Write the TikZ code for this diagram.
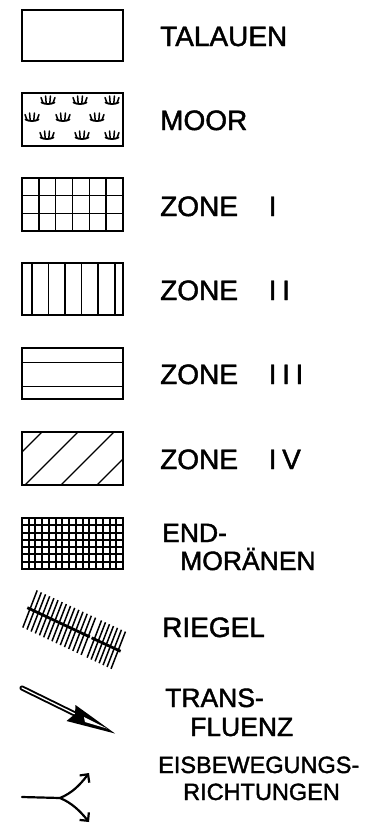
\documentclass[tikz,border=0pt]{standalone}
\usepackage{fontspec}
\setmainfont{Liberation Sans}
\newfontfamily\legendfont[FakeBold=1.6]{Liberation Sans}
\usetikzlibrary{arrows.meta}

\begin{document}
\begin{tikzpicture}[x=1pt, y=-1pt,
    box/.style={draw=black, line width=1.8pt},
    hatch/.style={draw=black, line width=1.4pt},
    dense/.style={draw=black, line width=2pt},
    flow/.style={draw=black, line width=2.2pt, line cap=round},
    legend/.style={anchor=base west, inner sep=0pt, font=\legendfont\fontsize{28}{30}\selectfont},
    legendsm/.style={anchor=base west, inner sep=0pt, font=\legendfont\fontsize{26.5}{28}\selectfont},
    legendxs/.style={anchor=base west, inner sep=0pt, font=\legendfont\fontsize{23.5}{25}\selectfont},
    tuft/.pic={
        \draw[line width=1.8pt, line cap=round] (-6.5,-0.5) .. controls (-3,1.5) and (3,1.5) .. (6.5,-0.5);
        \draw[line width=1.5pt, line cap=round] (-7,-5.5) -- (-5,0) (-2.4,-7) -- (-1.8,0.8)
            (2.4,-7) -- (1.8,0.8) (7,-5.5) -- (5,0);
    }
]
\useasboundingbox (0,0) rectangle (372,825);

\draw[box] (22,10) rectangle (123,61);

\foreach \tx/\ty in {48/103,80/103,112/103,32/120,63/120,97/120,47/138,82/138,112/138}
    \pic at (\tx,\ty) {tuft};
\draw[box] (22,93) rectangle (123,146);

\foreach \gx in {1,...,5} \draw[hatch] ({22+\gx*16.83},178) -- ++(0,53);
\foreach \gy in {1,2} \draw[hatch] (22,{178+\gy*17.67}) -- ++(101,0);
\draw[box] (22,178) rectangle (123,231);

\foreach \gx in {32,48.5,65,81.5,98,115} \draw[hatch] (\gx,263) -- (\gx,315);
\draw[box] (22,263) rectangle (123,315);

\draw[hatch] (22,362.5) -- (123,362.5);
\draw[hatch] (22,386.5) -- (123,386.5);
\draw[box] (22,348) rectangle (123,399);

\begin{scope}
    \clip (22,432) rectangle (123,485);
    \foreach \dx in {42,78,114,150} \draw[hatch] (\dx,432) -- ++(-60,60);
\end{scope}
\draw[box] (22,432) rectangle (123,485);

\foreach \gx in {1,...,14} \draw[dense] ({22+\gx*6.733},518) -- ++(0,51);
\foreach \gy in {1,...,6} \draw[dense] (22,{518+\gy*7.286}) -- ++(101,0);
\draw[box] (22,518) rectangle (123,569);

\begin{scope}[shift={(30,609)}]
    \foreach \k [evaluate=\k as \s using \k*4.6] in {0,...,14}
        \draw[line width=1.5pt] ({\s*0.906+7.2},{\s*0.423-18.6}) -- ({\s*0.906-7.2},{\s*0.423+18.6});
    \draw[line width=2.8pt] (-2.7,-1.3) -- (59.8,27.9);
    \foreach \k [evaluate=\k as \s using 71+\k*4.4] in {0,...,6}
        \draw[line width=1.5pt] ({\s*0.906+7.2},{\s*0.423-18.6}) -- ({\s*0.906-7.2},{\s*0.423+18.6});
    \draw[line width=2.8pt] (61.6,28.8) -- (90.6,42.3);
\end{scope}

\coordinate (transstart) at (22,688);
\coordinate (transnotch) at (75,714);
\draw[line width=1.9pt, double=white, double distance=1.3pt, line cap=round] (transstart) -- (transnotch);
\fill[black] (75.5,705) -- (115,733.5) -- (66.5,721) -- (transnotch) -- cycle;
\fill[white] (84,717) -- (107,728.5) -- (85,722) -- cycle;

\coordinate (eisstart) at (22,797);
\coordinate (eisfork) at (60,798);
\coordinate (eisup) at (89,773);
\coordinate (eisdown) at (89,822);
\draw[flow] (eisstart) -- (eisfork);
\draw[flow, -{Straight Barb[length=6pt,width=12pt]}] (eisfork) .. controls (72,793) and (80,785) .. (eisup);
\draw[flow, -{Straight Barb[length=6pt,width=12pt]}] (eisfork) .. controls (72,803) and (80,811) .. (eisdown);

\node[legend] (talauen) at (160,46) {TALAUEN};
\node[legend] (moor) at (160,130) {MOOR};
\node[legend] (zone1) at (160,216) {ZONE\hspace{1.1em}I};
\node[legend] (zone2) at (160,300) {ZONE\hspace{1.1em}I\hspace{0.2em}I};
\node[legend] (zone3) at (160,384) {ZONE\hspace{1.1em}I\hspace{0.2em}I\hspace{0.2em}I};
\node[legend] (zone4) at (160,469) {ZONE\hspace{1.1em}I\hspace{0.2em}V};
\node[legendsm] (endmo1) at (162,542) {END-};
\node[legendsm] (endmo2) at (180,570) {MORÄNEN};
\node[legend] (riegel) at (162,637) {RIEGEL};
\node[legendsm] (trans1) at (165,707) {TRANS-};
\node[legendsm] (trans2) at (190,736) {FLUENZ};
\node[legendxs] (eis1) at (158,773) {EISBEWEGUNGS-};
\node[legendxs] (eis2) at (183,800) {RICHTUNGEN};
\end{tikzpicture}
\end{document}
